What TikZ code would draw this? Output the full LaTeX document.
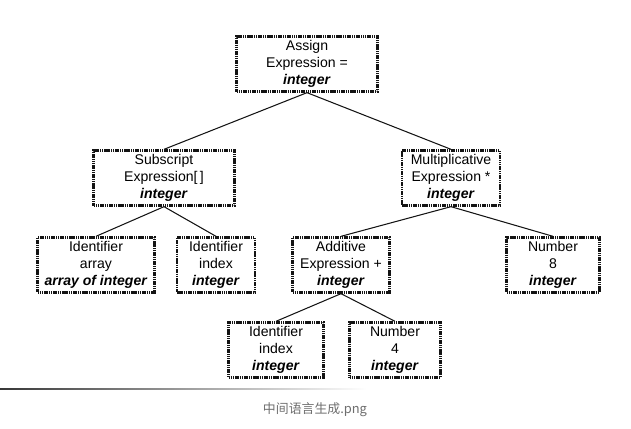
\documentclass[tikz,border=0pt]{standalone}
\usepackage{fontspec}
\setmainfont{Liberation Sans}
\newfontfamily\cjkfont{Noto Sans CJK SC}
\usepackage{xcolor}
\definecolor{inkblack}{RGB}{20,20,20}
\definecolor{captiongrey}{RGB}{110,110,110}
\newcommand{\astype}[1]{\textbf{\textit{#1}}}
\tikzset{
  astbox/.style={draw=inkblack, line width=2pt, dash pattern=on 1.3pt off 0.6pt,
    minimum height=1.65cm, align=center, inner sep=2pt,
    font=\fontsize{12}{14.5}\selectfont},
  astedge/.style={draw=inkblack, line width=0.9pt}
}

\begin{document}
\begin{tikzpicture}
        \useasboundingbox (0,0) rectangle (18.93,12.84);
        % Root
        \node[astbox, minimum width=4.23cm] (assign) at (9.21,10.92)
          {Assign\\Expression =\\\astype{integer}};
        % Second level
        \node[astbox, minimum width=4.23cm] (subscr) at (4.92,7.50)
          {Subscript\\Expression[\,]\\\astype{integer}};
        \node[astbox, minimum width=2.94cm] (mult) at (13.53,7.50)
          {Multiplicative\\Expression *\\\astype{integer}};
        % Third level
        \node[astbox, minimum width=3.51cm] (idarray) at (2.88,4.89)
          {Identifier\\array\\\astype{array of integer}};
        \node[astbox, minimum width=2.34cm] (idindex) at (6.48,4.89)
          {Identifier\\index\\\astype{integer}};
        \node[astbox, minimum width=2.91cm] (additive) at (10.23,4.89)
          {Additive\\Expression +\\\astype{integer}};
        \node[astbox, minimum width=2.79cm] (numeight) at (16.59,4.89)
          {Number\\8\\\astype{integer}};
        % Fourth level
        \node[astbox, minimum width=2.85cm] (idindexb) at (8.28,2.34)
          {Identifier\\index\\\astype{integer}};
        \node[astbox, minimum width=2.73cm] (numfour) at (11.85,2.34)
          {Number\\4\\\astype{integer}};
        % Edges
        \draw[astedge] (assign.south) -- (subscr.north);
        \draw[astedge] (assign.south) -- (mult.north);
        \draw[astedge] (subscr.south) -- (idarray.north);
        \draw[astedge] (subscr.south) -- (idindex.north);
        \draw[astedge] (mult.south) -- (additive.north);
        \draw[astedge] (mult.south) -- (numeight.north);
        \draw[astedge] (additive.south) -- (idindexb.north);
        \draw[astedge] (additive.south) -- (numfour.north);
        % Caption rule and caption
        \shade[left color=inkblack!85, right color=white]
          (0,1.15) rectangle (11.0,1.19);
        \node[captiongrey, font=\cjkfont\fontsize{11}{13}\selectfont] (caption)
          at (9.45,0.54) {中间语言生成.png};
\end{tikzpicture}
\end{document}
